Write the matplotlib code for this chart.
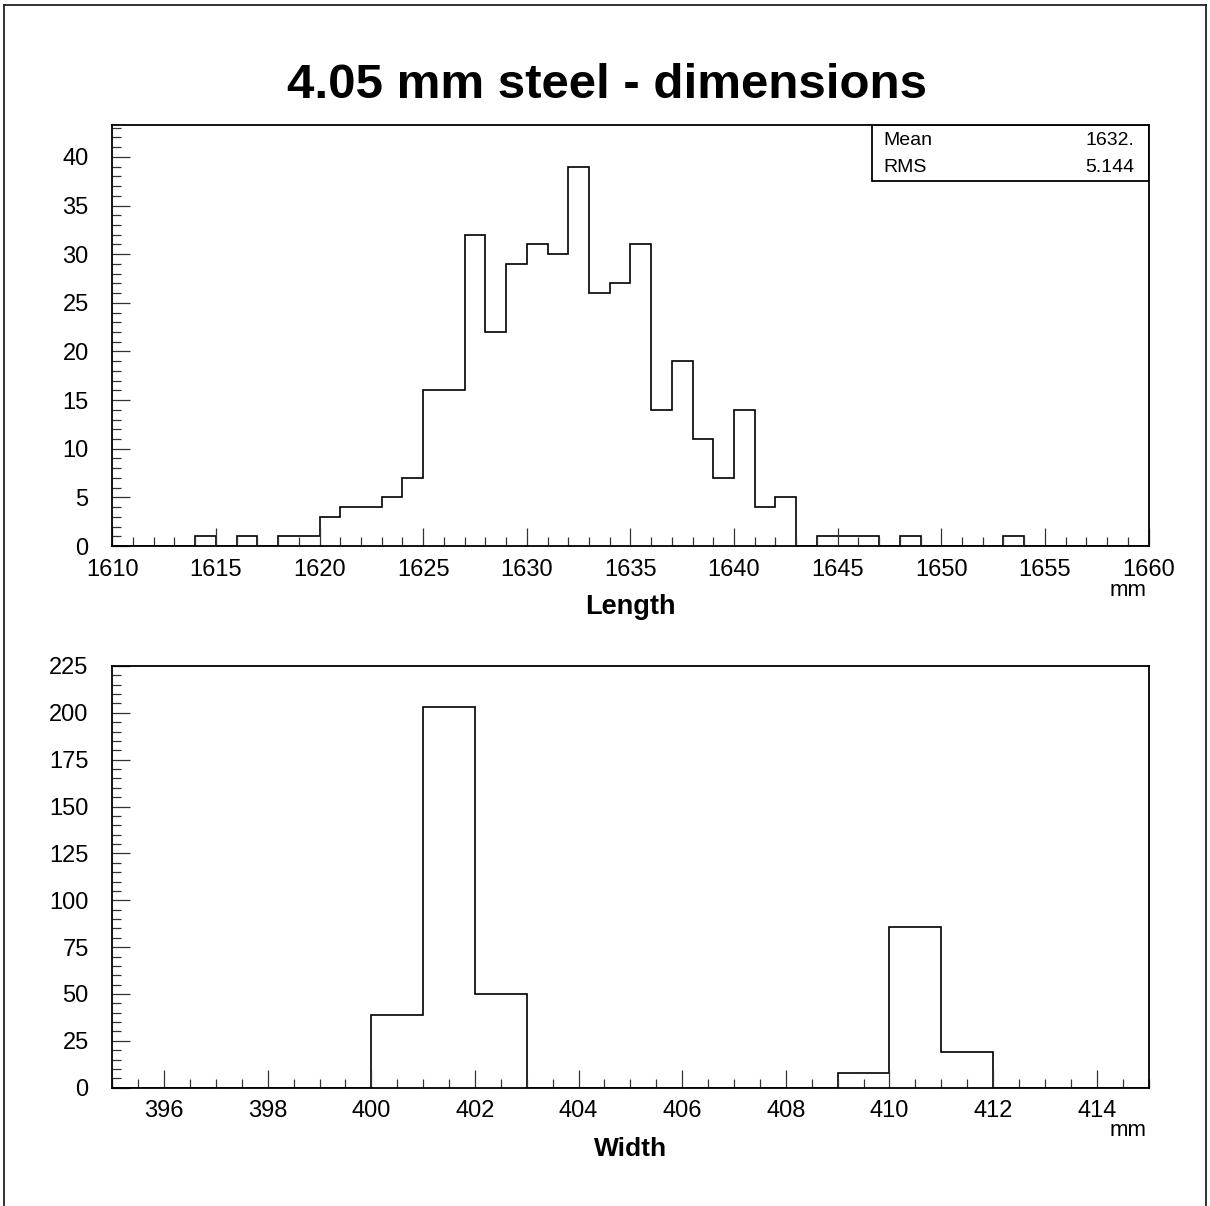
import numpy as np
import matplotlib
matplotlib.use("Agg")
import matplotlib.pyplot as plt
from matplotlib.lines import Line2D
from matplotlib.ticker import MultipleLocator

# ---- data -----------------------------------------------------------------
title = "4.05 mm steel - dimensions"

# Length histogram: 1 mm bins from 1610 to 1660
length_range = (1610, 1660)
length_counts = [
    0, 0, 0, 0, 1, 0, 1, 0, 1, 1,        # 1610-1619
    3, 4, 4, 5, 7, 16, 16, 32, 22, 29,   # 1620-1629
    31, 30, 39, 26, 27, 31, 14, 19, 11, 7,  # 1630-1639
    14, 4, 5, 0, 1, 1, 1, 0, 1, 0,       # 1640-1649
    0, 0, 0, 1, 0, 0, 0, 0, 0, 0,        # 1650-1659
]
length_ymax = 43.25

# Width histogram: 1 mm bins from 395 to 415
width_range = (395, 415)
width_counts = [
    0, 0, 0, 0, 0, 39, 203, 50, 0, 0,    # 395-404
    0, 0, 0, 0, 8, 86, 19, 0, 0, 0,      # 405-414
]
width_ymax = 225

stat_names = ["Mean", "RMS"]
stat_values = ["1632.", "5.144"]

# ---- style ----------------------------------------------------------------
plt.rcParams["font.family"] = ["Liberation Sans", "DejaVu Sans"]

W, H = 1210, 1206
fig = plt.figure(figsize=(W / 100, H / 100), dpi=100)
fig.patch.set_facecolor("white")


def px_axes(x0, y0, x1, y1):
    """Create axes from pixel box (top-left origin)."""
    return fig.add_axes([x0 / W, 1 - y1 / H, (x1 - x0) / W, (y1 - y0) / H])


def style_axes(ax, xmajor, xminor, ymajor, yminor):
    for side in ("top", "right", "left", "bottom"):
        ax.spines[side].set_linewidth(1.3)
        ax.spines[side].set_color("black")
    ax.xaxis.set_major_locator(MultipleLocator(xmajor))
    ax.xaxis.set_minor_locator(MultipleLocator(xminor))
    ax.yaxis.set_major_locator(MultipleLocator(ymajor))
    ax.yaxis.set_minor_locator(MultipleLocator(yminor))
    ax.tick_params(which="both", direction="in", top=False, right=False,
                   color="#333333", width=0.9)
    ax.tick_params(which="major", length=13)
    ax.tick_params(which="minor", length=6.5)
    ax.tick_params(axis="y", which="major", pad=17, labelsize=17)
    ax.tick_params(axis="x", which="major", pad=9, labelsize=17)


def draw_hist(ax, counts, rng):
    edges = np.arange(rng[0], rng[1] + 1)
    ax.stairs(counts, edges, baseline=0, fill=False, color="black",
              linewidth=1.2)
    ax.set_xlim(rng)


# ---- top panel: length ------------------------------------------------------
ax1 = px_axes(112.3, 125.3, 1148.5, 546)
draw_hist(ax1, length_counts, length_range)
ax1.set_ylim(0, length_ymax)
style_axes(ax1, 5, 1, 5, 1)

# statistics box
box_x0, box_y0 = (871.7 - 112.3) / (1148.5 - 112.3), 1 - (180.5 - 125.3) / (546 - 125.3)
ax1.add_patch(plt.Rectangle((box_x0, box_y0), 1 - box_x0, 1 - box_y0,
                            transform=ax1.transAxes, fill=False,
                            edgecolor="black", linewidth=1.3, zorder=5))
for i, (name, val) in enumerate(zip(stat_names, stat_values)):
    yc = 1 - ((140.8 + 26.5 * i) - 125.3) / (546 - 125.3)
    ax1.text((883.5 - 112.3) / (1148.5 - 112.3), yc, name,
             transform=ax1.transAxes, ha="left", va="center", fontsize=14)
    ax1.text((1134.5 - 112.3) / (1148.5 - 112.3), yc, val,
             transform=ax1.transAxes, ha="right", va="center", fontsize=14)

fig.text(1147 / W, 1 - 590 / H, "mm", ha="right", va="center", fontsize=16)
fig.text(630.4 / W, 1 - 607.5 / H, "Length", ha="center", va="center",
         fontsize=19.5, fontweight="bold")

# ---- bottom panel: width ------------------------------------------------------
ax2 = px_axes(112.3, 666, 1148.5, 1087.7)
draw_hist(ax2, width_counts, width_range)
ax2.set_ylim(0, width_ymax)
style_axes(ax2, 2, 0.5, 25, 5)

fig.text(1147 / W, 1 - 1131 / H, "mm", ha="right", va="center", fontsize=16)
fig.text(630.4 / W, 1 - 1149.5 / H, "Width", ha="center", va="center",
         fontsize=19, fontweight="bold")

# ---- title ------------------------------------------------------------------
fig.text(607 / W, 1 - 80 / H, title, ha="center", va="center_baseline",
         fontsize=35.5, fontweight="bold")

# ---- canvas border ------------------------------------------------------------
bc = "#222222"
fig.add_artist(Line2D([4.3 / W, 4.3 / W], [0, 1 - 4.5 / H], color=bc, lw=1.3))
fig.add_artist(Line2D([4.3 / W, 1206 / W], [1 - 4.5 / H, 1 - 4.5 / H], color=bc, lw=1.3))
fig.add_artist(Line2D([1206 / W, 1206 / W], [0, 1 - 4.5 / H], color=bc, lw=1.3))

fig.savefig("out.png", dpi=100, facecolor="white")
